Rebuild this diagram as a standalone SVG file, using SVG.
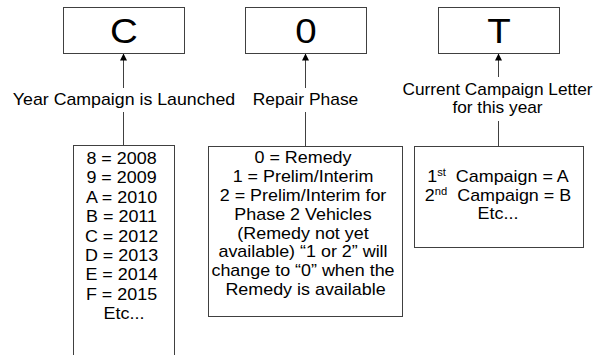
<svg xmlns="http://www.w3.org/2000/svg" width="598" height="355" viewBox="0 0 598 355">
<defs>
<style>
.box{fill:#fff;stroke:#404040;stroke-width:1}
.ln{fill:none;stroke:#404040;stroke-width:1}
.t{font-family:"Liberation Sans",Arial,sans-serif;font-size:16px;fill:#000;text-anchor:middle}
.big{font-family:"Liberation Sans",Arial,sans-serif;font-size:35px;fill:#000;text-anchor:middle}
.sup{font-size:10px}
</style>
<marker id="ah" viewBox="0 0 10 10" refX="10" refY="5" markerWidth="7" markerHeight="9" markerUnits="userSpaceOnUse" orient="auto">
<path d="M0,0 L10,5 L0,10 Z" fill="#000"/>
</marker>
</defs>
<rect width="598" height="355" fill="#fff"/>
<g id="connectors">
<line class="ln" x1="123.5" y1="88" x2="123.5" y2="53.5" marker-end="url(#ah)"/>
<line class="ln" x1="123.5" y1="112" x2="123.5" y2="145"/>
<line class="ln" x1="305.5" y1="88" x2="305.5" y2="53.5" marker-end="url(#ah)"/>
<line class="ln" x1="305.5" y1="112" x2="305.5" y2="146"/>
<line class="ln" x1="498.5" y1="77" x2="498.5" y2="53.5" marker-end="url(#ah)"/>
<line class="ln" x1="498.5" y1="121" x2="498.5" y2="146"/>
</g>
<g id="nodeC">
<rect class="box" x="63.5" y="7.5" width="121" height="46"/>
<text class="big" transform="translate(124,43) scale(1.1,1)" x="0" y="0">C</text>
</g>
<g id="node0">
<rect class="box" x="245.5" y="7.5" width="121" height="46"/>
<text class="big" transform="translate(306,43) scale(1.1,1)" x="0" y="0">0</text>
</g>
<g id="nodeT">
<rect class="box" x="438.5" y="7.5" width="121" height="46"/>
<text class="big" transform="translate(499,43) scale(1.1,1)" x="0" y="0">T</text>
</g>
<g id="labelYear">
<text class="t" transform="translate(124,104.5) scale(1.11,1)" x="0" y="0">Year Campaign is Launched</text>
</g>
<g id="labelRepair">
<text class="t" transform="translate(305.5,104.5) scale(1.09,1)" x="0" y="0">Repair Phase</text>
</g>
<g id="labelCurrent">
<text class="t" transform="translate(497.5,95) scale(1.08,1)" x="0" y="0">Current Campaign Letter<tspan x="0" dy="18">for this year</tspan></text>
</g>
<g id="yearList">
<rect class="box" x="73.5" y="145.5" width="101" height="220"/>
<text class="t" transform="translate(124,164) scale(1.12,1)" x="0" y="0">
<tspan x="0" dy="0">8 = 2008</tspan>
<tspan x="0" dy="19.4">9 = 2009</tspan>
<tspan x="0" dy="19.4">A = 2010</tspan>
<tspan x="0" dy="19.4">B = 2011</tspan>
<tspan x="0" dy="19.4">C = 2012</tspan>
<tspan x="0" dy="19.4">D = 2013</tspan>
<tspan x="0" dy="19.4">E = 2014</tspan>
<tspan x="0" dy="19.4">F = 2015</tspan>
<tspan x="0" dy="19.4">Etc...</tspan>
</text>
</g>
<g id="phaseList">
<rect class="box" x="208.5" y="146.5" width="194" height="170"/>
<text class="t" transform="translate(305.5,163) scale(1.12,1)" x="0" y="0">
<tspan x="0" dy="0">0 = Remedy</tspan>
<tspan x="0" dy="18.9">1 = Prelim/Interim</tspan>
<tspan x="0" dy="18.9">2 = Prelim/Interim for</tspan>
<tspan x="0" dy="18.9">Phase 2 Vehicles</tspan>
<tspan x="0" dy="18.9">(Remedy not yet</tspan>
<tspan x="0" dy="18.9">available) “1 or 2” will</tspan>
<tspan x="0" dy="18.9">change to “0” when the</tspan>
<tspan x="0" dy="18.9">Remedy is available</tspan>
</text>
</g>
<g id="letterList">
<rect class="box" x="414.5" y="146.5" width="169" height="101"/>
<text class="t" transform="translate(498,182) scale(1.12,1)" x="0" y="0">1<tspan class="sup" dy="-6">st</tspan><tspan dy="6">&#160; Campaign = A</tspan></text>
<text class="t" transform="translate(498,200.5) scale(1.12,1)" x="0" y="0">2<tspan class="sup" dy="-6">nd</tspan><tspan dy="6">&#160; Campaign = B</tspan></text>
<text class="t" transform="translate(498,219) scale(1.12,1)" x="0" y="0">Etc...</text>
</g>
</svg>
